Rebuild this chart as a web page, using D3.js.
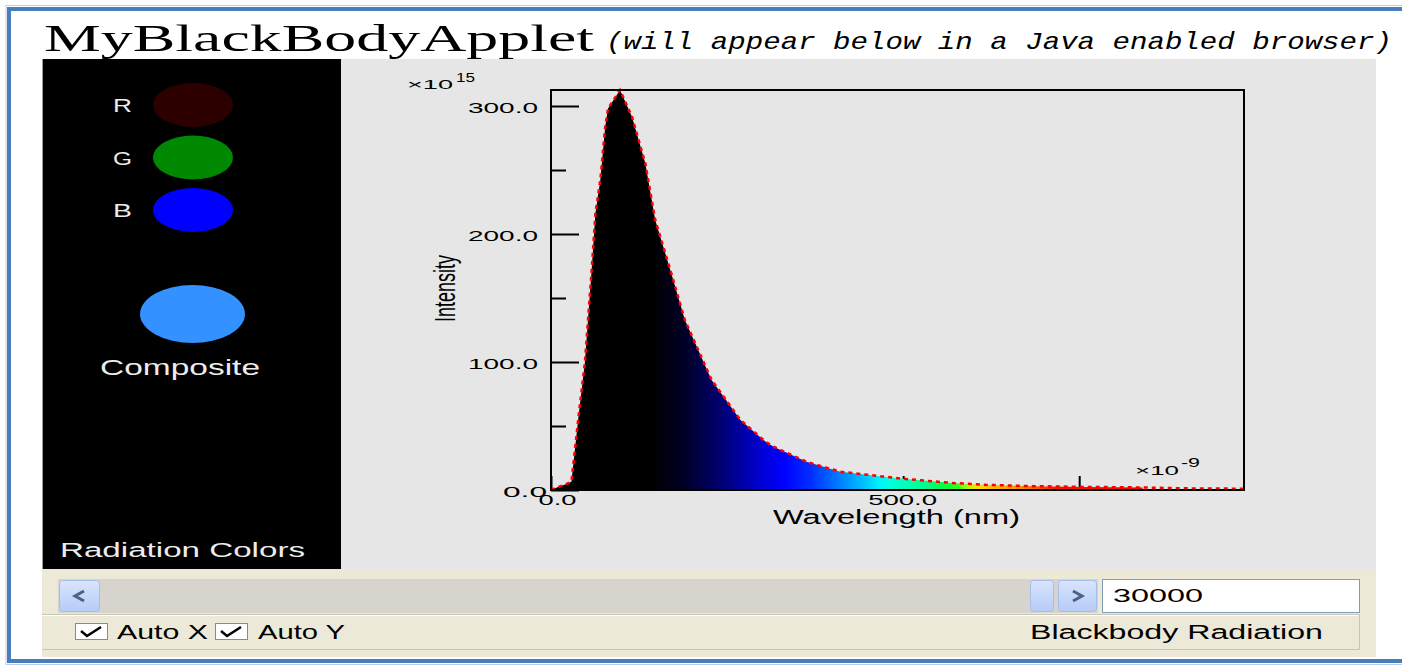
<!DOCTYPE html>
<html>
<head>
<meta charset="utf-8">
<script src="https://cdn.jsdelivr.net/npm/d3@7"></script>
<style>
  body { margin: 0; background: #fff; }
  svg { display: block; font-family: "Liberation Sans", Arial, sans-serif; }
</style>
</head>
<body>
<script>
// blackbody curve (wavelength nm, intensity x1e15)
var wavelength = [0, 10, 20, 29, 39, 48, 58, 63, 70, 77, 81, 98, 115, 134, 148, 171, 190, 228, 269, 304, 316, 363, 411, 496, 567, 619, 685, 760, 840, 900, 984];
var intensity  = [0, 2.3, 4.2, 6.5, 57, 99, 174, 216, 242, 284, 298, 312.5, 291.6, 255, 211, 169, 133, 86, 54.7, 38, 33.8, 22, 14.3, 9.0, 5.6, 4.0, 3.0, 2.4, 2.0, 1.3, 1.0];
var fillEnd = 840;

// colour bands under the curve
var specLambda = [0, 145, 190, 240, 300, 330, 370, 410, 440, 465, 480, 500, 530, 555, 578, 590, 605, 625, 650, 672, 695, 718, 840];
var specColor  = ["#000000", "#000000", "#000028", "#000070", "#0000d8", "#0000ff", "#0030ff", "#0080ff", "#00b8ff", "#00f0ff", "#00ffe0", "#00ffc0", "#00ff90", "#00ff50", "#30ff20", "#a0ff10", "#ffe000", "#ffc000", "#ffa000", "#ff8000", "#ff5000", "#ff1000", "#ff0000"];

var yMajor = [0, 100, 200, 300];
var yMinor = [50, 150, 250];
var xMajor = [0, 500];
var xMinor = [250, 750];

var channels = ["R", "G", "B"];
var channelColors = ["#2d0000", "#008800", "#0000ff"];
var compositeColor = "#3392ff";

var W = 1402, H = 666;
var svg = d3.select("body").append("svg").attr("width", W).attr("height", H);

function txt(g, s, x, y, len, size, opt) {
  opt = opt || {};
  var t = g.append("text").attr("x", x).attr("y", y)
    .attr("font-size", size)
    .attr("fill", opt.fill || "#000")
    .attr("textLength", len).attr("lengthAdjust", "spacingAndGlyphs")
    .text(s);
  if (opt.family) t.attr("font-family", opt.family);
  if (opt.italic) t.attr("font-style", "italic");
  if (opt.transform) t.attr("transform", opt.transform);
  return t;
}

// outer page frame
svg.append("rect").attr("x", 6).attr("y", 5.5).attr("width", 1420).attr("height", 659)
  .attr("fill", "none").attr("stroke", "#b9cde5").attr("stroke-width", 1);
svg.append("rect").attr("x", 9).attr("y", 9).attr("width", 1420).attr("height", 652)
  .attr("fill", "none").attr("stroke", "#4a7ebb").attr("stroke-width", 4);

// heading
txt(svg, "MyBlackBodyApplet", 44, 51, 550, 38, {family: "'Liberation Serif', 'Times New Roman', serif"});
txt(svg, "(will appear below in a Java enabled browser)", 606, 49, 786, 23,
  {family: "'Liberation Mono', 'Courier New', monospace", italic: true});

// applet panels
svg.append("rect").attr("x", 42).attr("y", 59).attr("width", 1334).attr("height", 510).attr("fill", "#e6e6e6");
svg.append("rect").attr("x", 42).attr("y", 59).attr("width", 299).attr("height", 510).attr("fill", "#000");
svg.append("line").attr("x1", 42.5).attr("x2", 42.5).attr("y1", 59).attr("y2", 569).attr("stroke", "#9a9a9a");

// left colour panel
var cy = d3.scalePoint().domain(channels).range([105, 210]);
var left = svg.append("g");
channels.forEach(function (c, i) {
  left.append("ellipse").attr("cx", 193).attr("cy", cy(c)).attr("rx", 40).attr("ry", 22).attr("fill", channelColors[i]);
  txt(left, c, 113, cy(c) + 7, 19, 19, {fill: "#ececec"});
});
left.append("ellipse").attr("cx", 192.5).attr("cy", 314).attr("rx", 52.5).attr("ry", 29).attr("fill", compositeColor);
txt(left, "Composite", 100, 375, 160, 22, {fill: "#ececec"});
txt(left, "Radiation Colors", 60, 557, 245, 20, {fill: "#ececec"});

// plot
var x = d3.scaleLinear().domain([0, 984]).range([551, 1244]);
var y = d3.scaleLinear().domain([0, 312.5]).range([490, 90]);
var pts = wavelength.map(function (w, i) { return [w, intensity[i]]; });

var defs = svg.append("defs");
var grad = defs.append("linearGradient").attr("id", "spec").attr("gradientUnits", "userSpaceOnUse")
  .attr("x1", x(0)).attr("x2", x(fillEnd)).attr("y1", 0).attr("y2", 0);
specLambda.forEach(function (l, i) {
  grad.append("stop").attr("offset", l / fillEnd).attr("stop-color", specColor[i]);
});

var plot = svg.append("g");

// x ticks (under the fill)
var xAxis = d3.axisBottom(x).tickValues(xMajor.concat(xMinor)).tickSize(-14).tickPadding(5)
  .tickFormat(function (d) { return xMajor.indexOf(d) >= 0 ? d3.format(".1f")(d) : ""; });
var gx = plot.append("g").attr("transform", "translate(0," + y(0) + ")").call(xAxis);
gx.select(".domain").remove();
gx.selectAll("line").attr("stroke", "#000").attr("stroke-width", 2);
gx.selectAll("text").each(function (d) {
  var len = d === 0 ? 38 : 69;
  var off = d === 0 ? 6 : -1;
  d3.select(this).attr("text-anchor", "start").attr("x", off - len / 2)
    .attr("font-size", 14.5).attr("font-family", "'Liberation Sans', Arial, sans-serif")
    .attr("fill", "#000").attr("textLength", len).attr("lengthAdjust", "spacingAndGlyphs");
});

var area = d3.area().x(function (d) { return x(d[0]); }).y0(y(0)).y1(function (d) { return y(d[1]); });
plot.append("path").datum(pts.filter(function (d) { return d[0] <= fillEnd; }))
  .attr("d", area).attr("fill", "url(#spec)");

var line = d3.line().x(function (d) { return x(d[0]); }).y(function (d) { return y(d[1]); });
plot.append("path").datum(pts).attr("d", line).attr("fill", "none")
  .attr("stroke", "#ff0000").attr("stroke-width", 2.5).attr("stroke-dasharray", "4,4");

// y axis
var yAxis = d3.axisLeft(y).tickValues(yMajor).tickSize(-28).tickPadding(13).tickFormat(d3.format(".1f"));
var gy = plot.append("g").attr("transform", "translate(" + x(0) + ",0)").call(yAxis);
gy.select(".domain").remove();
gy.selectAll("line").attr("stroke", "#000").attr("stroke-width", 2);
gy.selectAll("text").each(function (d) {
  var len = d === 0 ? 44 : 70;
  var right = d === 0 ? -4 : -13;
  d3.select(this).attr("text-anchor", "start").attr("x", right - len).attr("y", 1.5)
    .attr("font-size", 15).attr("font-family", "'Liberation Sans', Arial, sans-serif")
    .attr("fill", "#000").attr("textLength", len).attr("lengthAdjust", "spacingAndGlyphs");
});
var yAxisMinor = d3.axisLeft(y).tickValues(yMinor).tickSize(-15).tickFormat("");
var gym = plot.append("g").attr("transform", "translate(" + x(0) + ",0)").call(yAxisMinor);
gym.select(".domain").remove();
gym.selectAll("line").attr("stroke", "#000").attr("stroke-width", 2);

// frame
plot.append("rect").attr("x", x(0)).attr("y", y(312.5))
  .attr("width", x(984) - x(0)).attr("height", y(0) - y(312.5))
  .attr("fill", "none").attr("stroke", "#000").attr("stroke-width", 2);

// axis titles and exponents
txt(plot, "Wavelength (nm)", 773, 524, 247, 19.5);
txt(plot, "Intensity", 0, 0, 67, 30, {transform: "translate(455,322) rotate(-90)"});
txt(plot, "×10", 407, 89, 46, 13);
txt(plot, "15", 456, 82, 19, 12);
txt(plot, "×10", 1135, 475, 44, 13);
txt(plot, "-9", 1181, 467, 19, 12);

// control panel
var ctl = svg.append("g");
ctl.append("rect").attr("x", 42).attr("y", 569).attr("width", 1334).attr("height", 88).attr("fill", "#ece9d8");
ctl.append("path").attr("d", "M42,614.5H1359.5V649.5H42").attr("fill", "none").attr("stroke", "#c8c4b4");
ctl.append("path").attr("d", "M42,615.5H1358.5").attr("stroke", "#fff");
ctl.append("rect").attr("x", 58).attr("y", 579).attr("width", 1040).attr("height", 34).attr("fill", "#d7d4cd");

var btnGrad = defs.append("linearGradient").attr("id", "btn").attr("x1", 0).attr("x2", 0).attr("y1", 0).attr("y2", 1);
btnGrad.append("stop").attr("offset", 0).attr("stop-color", "#d9e5fd");
btnGrad.append("stop").attr("offset", 1).attr("stop-color", "#b6cbf7");
[[59, 40], [1030, 23], [1058, 38]].forEach(function (b) {
  ctl.append("rect").attr("x", b[0] + 0.5).attr("y", 580.5).attr("width", b[1]).attr("height", 31).attr("rx", 3)
    .attr("fill", "url(#btn)").attr("stroke", "#a9bdea");
});
ctl.append("path").attr("d", "M84,591L75,596L84,601").attr("fill", "none").attr("stroke", "#4d6185").attr("stroke-width", 3);
ctl.append("path").attr("d", "M1073,591L1082,596L1073,601").attr("fill", "none").attr("stroke", "#4d6185").attr("stroke-width", 3);

ctl.append("rect").attr("x", 1102.5).attr("y", 579.5).attr("width", 257).attr("height", 33)
  .attr("fill", "#fff").attr("stroke", "#7f9db9");
txt(ctl, "30000", 1113, 602, 90, 19);

[75, 215].forEach(function (bx) {
  ctl.append("rect").attr("x", bx + 0.5).attr("y", 623.5).attr("width", 32).attr("height", 16)
    .attr("fill", "#fff").attr("stroke", "#8a8a8a");
  ctl.append("path").attr("d", "M" + (bx + 6) + ",631L" + (bx + 12) + ",636L" + (bx + 26) + ",627")
    .attr("fill", "none").attr("stroke", "#000").attr("stroke-width", 2.5);
});
txt(ctl, "Auto X", 117, 639, 91, 20);
txt(ctl, "Auto Y", 258, 639, 87, 20);
txt(ctl, "Blackbody Radiation", 1030, 639, 293, 20);
</script>
</body>
</html>
